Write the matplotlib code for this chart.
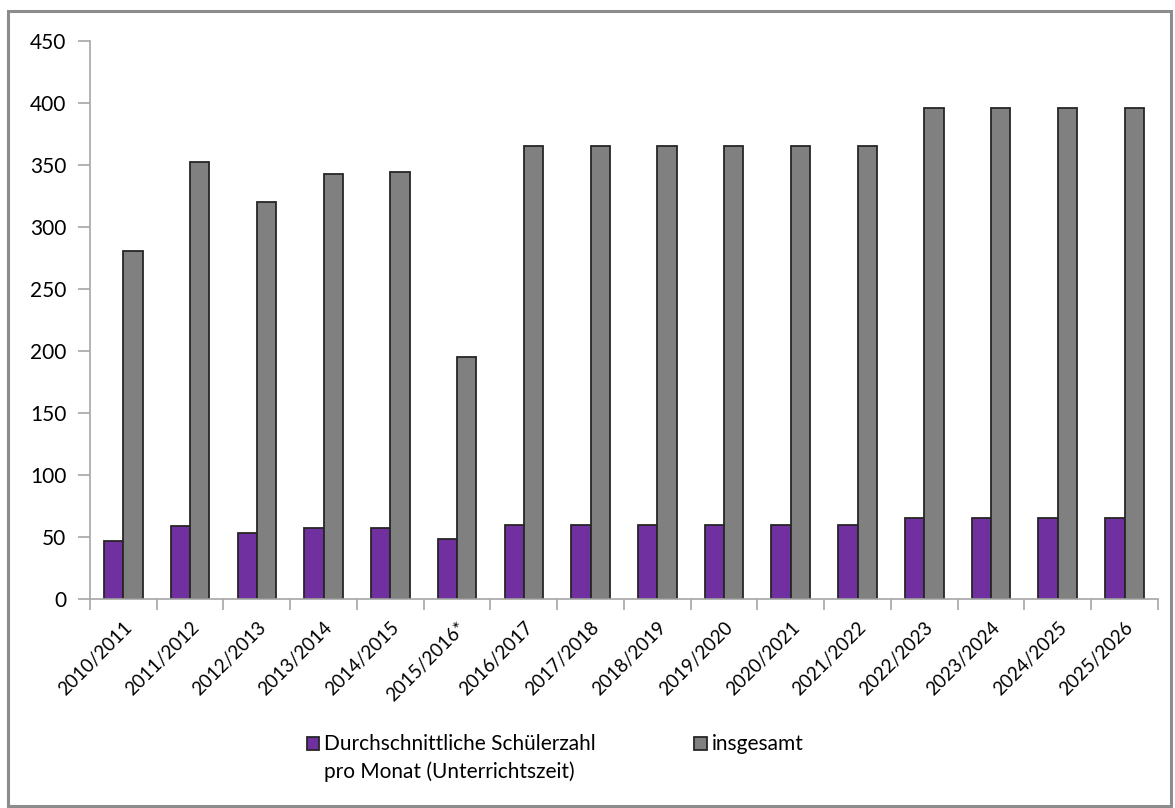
import matplotlib.pyplot as plt
import matplotlib.transforms as mtrans
from matplotlib.patches import Rectangle
from matplotlib.ticker import MultipleLocator, FixedLocator
import numpy as np

plt.rcParams['font.family'] = ['Lato', 'DejaVu Sans']

years = ['2010/2011', '2011/2012', '2012/2013', '2013/2014', '2014/2015',
         '2015/2016*', '2016/2017', '2017/2018', '2018/2019', '2019/2020',
         '2020/2021', '2021/2022', '2022/2023', '2023/2024', '2024/2025',
         '2025/2026']

schueler_monat = [47, 59, 53, 57, 57, 48, 60, 60, 60, 60, 60, 60, 65, 65, 65, 65]
insgesamt = [281, 352, 320, 343, 344, 195, 365, 365, 365, 365, 365, 365,
             396, 396, 396, 396]

label_monat = ['Durchschnittliche Schülerzahl', 'pro Monat (Unterrichtszeit)']
label_ges = 'insgesamt'

fig = plt.figure(figsize=(11.75, 8.08), dpi=100)
ax = fig.add_axes([0.0766, 0.2587, 0.9089, 0.6906])

# outer chart border
fig.patches.append(Rectangle((0.007, 0.003), 0.990, 0.983, transform=fig.transFigure,
                             fill=False, edgecolor='#8c8c8c', linewidth=2.2))

x = np.arange(len(years))
w = 0.29
b1 = ax.bar(x - w / 2, schueler_monat, w, color='#7030a0', edgecolor='#262626',
            linewidth=1.3)
b2 = ax.bar(x + w / 2, insgesamt, w, color='#808080', edgecolor='#262626',
            linewidth=1.3)

ax.set_xlim(-0.5, len(years) - 0.5)
ax.set_ylim(0, 450)
ax.yaxis.set_major_locator(MultipleLocator(50))

ax.set_xticks(x)
ax.set_xticklabels(years, rotation=45, ha='right', va='top',
                   rotation_mode='anchor', fontsize=13.5)
ax.tick_params(axis='x', which='major', length=0, pad=14)
ax.xaxis.set_minor_locator(FixedLocator(np.arange(-0.5, len(years), 1.0)))
ax.tick_params(axis='x', which='minor', length=8, color='#a6a6a6', width=1.2)
offset = mtrans.ScaledTranslation(0.0, 0, fig.dpi_scale_trans)
for t in ax.get_xticklabels():
    t.set_transform(t.get_transform() + offset)

ax.tick_params(axis='y', length=9, color='#a6a6a6', width=1.2, labelsize=15, pad=8)

for s in ['top', 'right']:
    ax.spines[s].set_visible(False)
for s in ['left', 'bottom']:
    ax.spines[s].set_color('#a6a6a6')
    ax.spines[s].set_linewidth(1.2)

leg = fig.legend([b1, b2], [label_monat[0], label_ges], loc='upper left',
                 bbox_to_anchor=(0.261, 0.091), ncol=2,
                 frameon=False, fontsize=15, handlelength=0.6, handleheight=0.6,
                 handletextpad=0.25, columnspacing=4.7, borderaxespad=0, borderpad=0)

# second line of the first legend entry, under the first line
fig.canvas.draw()
bb = leg.get_texts()[0].get_window_extent()
fig.text(bb.x0 / fig.bbox.width, (bb.y0 - 28) / fig.bbox.height, label_monat[1],
         fontsize=15, ha='left', va='bottom')

fig.savefig('out.png', dpi=100)
